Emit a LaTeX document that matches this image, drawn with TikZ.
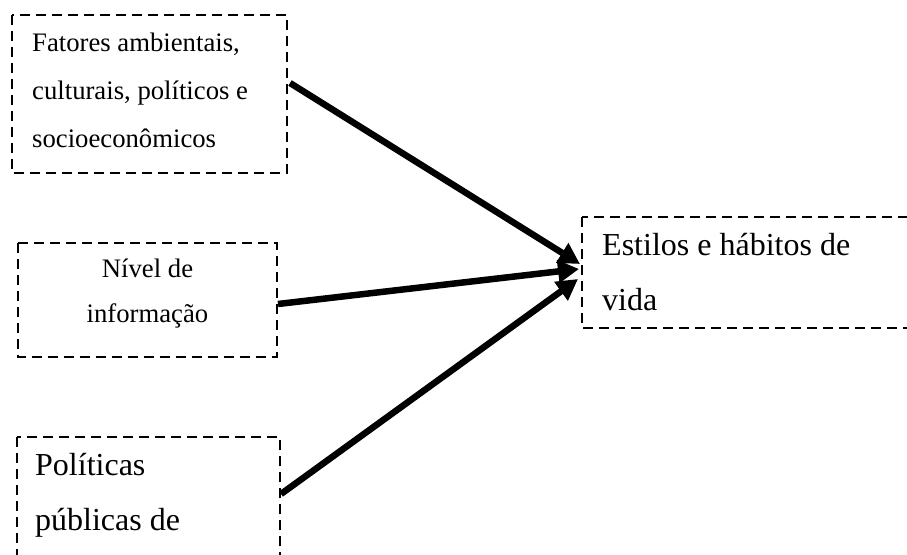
\documentclass[tikz,border=0pt]{standalone}
\usepackage{fontspec}
\setmainfont{Liberation Serif}
\usetikzlibrary{arrows.meta}
\tikzset{
  dbox/.style={draw=black, line width=2.6pt, dash pattern=on 10pt off 6pt},
  smalltxt/.style={inner sep=0pt, font=\fontsize{26.7}{30}\selectfont},
  bigtxt/.style={inner sep=0pt, font=\fontsize{32}{36}\selectfont},
  conn/.style={line width=6.5pt, -{Triangle[length=21pt,width=22pt]}}
}
\begin{document}
\begin{tikzpicture}[x=1pt,y=-1pt]
\useasboundingbox (0,0) rectangle (907,554);
\fill[white] (0,0) rectangle (907,554);
\clip (0,0) rectangle (907,554);
% boxes
\draw[dbox] (12,15) rectangle (287,173);
\draw[dbox] (582,217) rectangle (930,328);
\draw[dbox] (18,243) rectangle (277,357);
\draw[dbox] (17,437) rectangle (280,600);
% texts
\node[smalltxt, anchor=base west] (f1) at (32,51) {Fatores ambientais,};
\node[smalltxt, anchor=base west] (f2) at (32,99) {culturais, políticos e};
\node[smalltxt, anchor=base west] (f3) at (32,147) {socioeconômicos};
\node[bigtxt, anchor=base west] (e1) at (602,255) {Estilos e hábitos de};
\node[bigtxt, anchor=base west] (e2) at (602,310) {vida};
\node[smalltxt, anchor=base] (n1) at (147.5,277) {Nível de};
\node[smalltxt, anchor=base] (n2) at (147.5,322) {informação};
\node[bigtxt, anchor=base west] (p1) at (35,475) {Políticas};
\node[bigtxt, anchor=base west] (p2) at (35,530) {públicas de};
% connector ends
\coordinate (a1) at (290,83);
\coordinate (a2) at (278,304);
\coordinate (a3) at (281,494);
\coordinate (t1) at (580,264);
\coordinate (t2) at (579,269);
\coordinate (t3) at (578,279);
\draw[conn] (a1) -- (t1);
\draw[conn] (a2) -- (t2);
\draw[conn] (a3) -- (t3);
\end{tikzpicture}
\end{document}
